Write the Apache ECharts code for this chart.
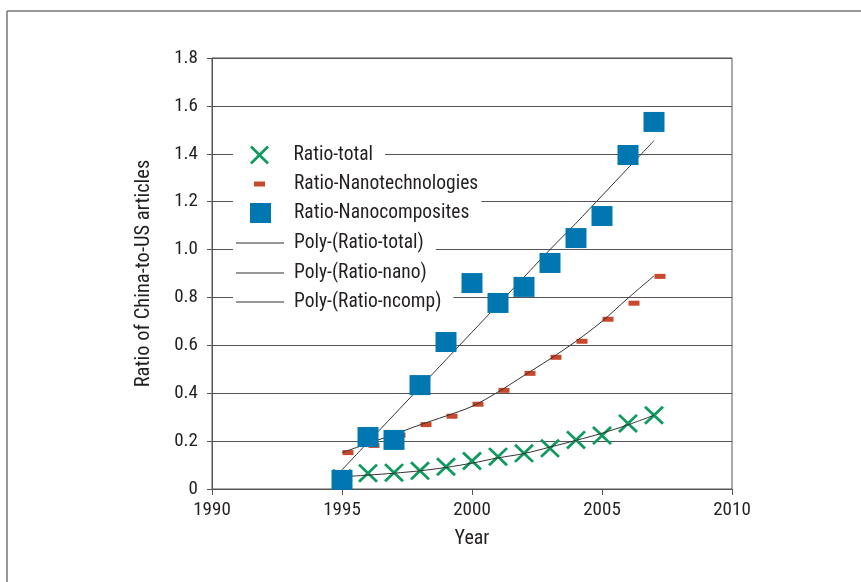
<!DOCTYPE html>
<html>
<head>
<meta charset="utf-8">
<script src="https://cdn.jsdelivr.net/npm/echarts@6/dist/echarts.min.js"></script>
<style>
html,body{margin:0;padding:0;background:#fff;}
#chart{width:861px;height:582px;}
</style>
</head>
<body>
<div id="chart"></div>
<script>
// ---- data ----
const years = [1995, 1996, 1997, 1998, 1999, 2000, 2001, 2002, 2003, 2004, 2005, 2006, 2007];
const ratioTotal = [0.045, 0.066, 0.068, 0.076, 0.093, 0.117, 0.135, 0.149, 0.170, 0.205, 0.223, 0.274, 0.308];
const ratioNano = [0.152, 0.182, 0.225, 0.269, 0.304, 0.354, 0.412, 0.483, 0.550, 0.617, 0.709, 0.776, 0.888];
const ratioNcomp = [0.038, 0.217, 0.205, 0.434, 0.614, 0.860, 0.777, 0.844, 0.944, 1.048, 1.140, 1.395, 1.533];
const polyTotal = [0.051, 0.058, 0.066, 0.076, 0.090, 0.108, 0.130, 0.148, 0.175, 0.203, 0.233, 0.268, 0.308];
const polyNano = [0.152, 0.190, 0.228, 0.268, 0.305, 0.345, 0.405, 0.474, 0.543, 0.617, 0.700, 0.797, 0.890];
const polyNcomp = [0.080, 0.195, 0.310, 0.425, 0.540, 0.655, 0.770, 0.885, 1.000, 1.110, 1.225, 1.340, 1.455];
const xTicks = [1990, 1995, 2000, 2005, 2010];
const yTickLabels = ['0', '0.2', '0.4', '0.6', '0.8', '1.0', '1.2', '1.4', '1.6', '1.8'];
const seriesNames = ['Ratio-total', 'Ratio-Nanotechnologies', 'Ratio-Nanocomposites',
  'Poly-(Ratio-total)', 'Poly-(Ratio-nano)', 'Poly-(Ratio-ncomp)'];
const xAxisTitle = 'Year';
const yAxisTitle = 'Ratio of China-to-US articles';

const pairs = (ys) => years.map((y, i) => [y, ys[i]]);

const FONT = '"Roboto Condensed", "Liberation Sans Narrow", "DejaVu Sans Condensed", "Liberation Sans", sans-serif';
const TXT = '#231f20';
const GREEN = '#0f9a60';
const RED = '#c9472b';
const BLUE = '#0077b0';
const crossPath = 'path://M0,2 L2,0 L20,18 L18,20 Z M18,0 L20,2 L2,20 L0,18 Z';

function mkLegend(name, iconW, iconH, iconLeft, rowC, textPad, icon) {
  const item = icon ? { name: name, icon: icon } : name;
  return {
    data: [item],
    left: 233,
    top: rowC - 14,
    orient: 'horizontal',
    padding: [4, 12, 4, iconLeft - 233],
    backgroundColor: '#fff',
    itemWidth: iconW,
    itemHeight: iconH,
    selectedMode: false,
    textStyle: {
      fontFamily: FONT, fontSize: 19.5, color: TXT, lineHeight: 20,
      padding: [0, 0, 0, textPad]
    }
  };
}

const chart = echarts.init(document.getElementById('chart'), null, { renderer: 'canvas' });
chart.setOption({
  backgroundColor: '#fff',
  animation: false,
  graphic: [
    { type: 'line', shape: { x1: 7, y1: 11, x2: 7, y2: 582 }, style: { stroke: '#777', lineWidth: 1.5 } },
    { type: 'line', shape: { x1: 7, y1: 11, x2: 861, y2: 11 }, style: { stroke: '#777', lineWidth: 1.5 } }
  ],
  grid: { left: 212, right: 129, top: 58, bottom: 93, show: true, borderColor: '#555', borderWidth: 1, backgroundColor: 'transparent' },
  legend: [
    mkLegend(seriesNames[0], 20, 19, 250, 155, 19),
    mkLegend(seriesNames[1], 11, 5, 254, 184, 24),
    mkLegend(seriesNames[2], 21, 20, 250, 213, 18),
    mkLegend(seriesNames[3], 48, 1, 236, 243, 5, 'rect'),
    mkLegend(seriesNames[4], 48, 1, 236, 273, 5, 'rect'),
    mkLegend(seriesNames[5], 48, 1, 236, 302, 5, 'rect')
  ],
  xAxis: {
    type: 'value', min: xTicks[0], max: xTicks[xTicks.length - 1], interval: 5,
    name: xAxisTitle, nameLocation: 'middle', nameGap: 40,
    nameTextStyle: { fontFamily: FONT, fontSize: 20, color: TXT },
    axisLine: { show: true, lineStyle: { color: '#555', width: 1 } },
    axisTick: { show: true, length: 6, lineStyle: { color: '#555' } },
    axisLabel: { fontFamily: FONT, fontSize: 19, color: TXT, margin: 12, formatter: (v) => String(v) },
    splitLine: { show: false }
  },
  yAxis: {
    type: 'value', min: 0, max: 1.8, interval: 0.2,
    name: yAxisTitle, nameLocation: 'middle', nameGap: 58, nameRotate: 90,
    nameTextStyle: { fontFamily: FONT, fontSize: 20.5, color: TXT },
    axisLine: { show: true, lineStyle: { color: '#555', width: 1 } },
    axisTick: { show: true, length: 5, lineStyle: { color: '#555' } },
    axisLabel: { fontFamily: FONT, fontSize: 19, color: TXT, margin: 14,
      formatter: (v) => yTickLabels[Math.round(v / 0.2)] },
    splitLine: { show: true, lineStyle: { color: '#555', width: 1 } }
  },
  series: [
    { name: seriesNames[0], type: 'scatter', data: pairs(ratioTotal), symbol: crossPath, symbolSize: [20, 19],
      itemStyle: { color: GREEN, opacity: 1 }, z: 1 },
    { name: seriesNames[1], type: 'scatter', data: pairs(ratioNano), symbol: 'rect', symbolSize: [11, 5], symbolOffset: [6, 0],
      itemStyle: { color: RED, opacity: 1 }, z: 2 },
    { name: seriesNames[2], type: 'scatter', data: pairs(ratioNcomp), symbol: 'rect', symbolSize: [21, 20],
      itemStyle: { color: BLUE, opacity: 1 }, z: 5 },
    { name: seriesNames[3], type: 'line', data: pairs(polyTotal), symbol: 'none', showSymbol: false, smooth: 0.3,
      lineStyle: { color: '#333', width: 1 }, itemStyle: { color: '#333' }, z: 3 },
    { name: seriesNames[4], type: 'line', data: pairs(polyNano), symbol: 'none', showSymbol: false, smooth: 0.3,
      lineStyle: { color: '#333', width: 1 }, itemStyle: { color: '#333' }, z: 3 },
    { name: seriesNames[5], type: 'line', data: pairs(polyNcomp), symbol: 'none', showSymbol: false, smooth: 0.3,
      lineStyle: { color: '#333', width: 1 }, itemStyle: { color: '#333' }, z: 3 }
  ]
});
</script>
</body>
</html>
